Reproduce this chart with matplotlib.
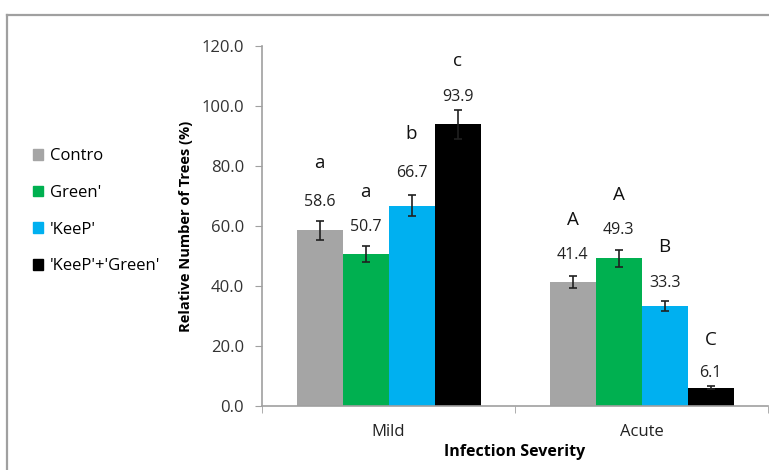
import matplotlib
matplotlib.use("Agg")
import matplotlib.pyplot as plt
from matplotlib.lines import Line2D
import numpy as np

categories = ["Mild", "Acute"]
series = ["Contro", "Green'", "'KeeP'", "'KeeP'+'Green'"]
values = {
    "Contro": [58.6, 41.4],
    "Green'": [50.7, 49.3],
    "'KeeP'": [66.7, 33.3],
    "'KeeP'+'Green'": [93.9, 6.1],
}
errors = {
    "Contro": [3.1, 2.0],
    "Green'": [2.8, 2.8],
    "'KeeP'": [3.5, 1.7],
    "'KeeP'+'Green'": [4.8, 0.5],
}
letters = {
    "Contro": ["a", "A"],
    "Green'": ["a", "A"],
    "'KeeP'": ["b", "B"],
    "'KeeP'+'Green'": ["c", "C"],
}
yticks = [0, 20, 40, 60, 80, 100, 120]

colors = ["#A5A5A5", "#00B050", "#00B0F0", "#000000"]
value_off = {
    "Contro": [9.3, 9.0],
    "Green'": [9.0, 9.2],
    "'KeeP'": [10.9, 7.6],
    "'KeeP'+'Green'": [9.1, 4.9],
}
letter_off = {
    "Contro": [22.3, 20.6],
    "Green'": [20.7, 20.9],
    "'KeeP'": [23.9, 19.7],
    "'KeeP'+'Green'": [21.0, 15.9],
}

plt.rcParams['font.family'] = ['Open Sans', 'DejaVu Sans']
fig = plt.figure(figsize=(7.69, 4.70), dpi=100)
ax = fig.add_axes([262/769, 1-406/470, 1-262/769-0.001, (406-46)/470])

x = np.arange(len(categories))
w = 46/253
for i, s in enumerate(series):
    xs = x + (i - 1.5) * w
    ax.bar(xs, values[s], width=w, color=colors[i], edgecolor='none', zorder=2)
    ax.errorbar(xs, values[s], yerr=errors[s], fmt='none', ecolor='#202020',
                elinewidth=1.2, capsize=3, capthick=1.2, zorder=3)
    for j in range(len(categories)):
        v = values[s][j]
        ax.text(xs[j], v + value_off[s][j], f"{v:.1f}", ha='center', va='center',
                fontsize=11.5, color='#222222')
        ax.text(xs[j], v + letter_off[s][j], letters[s][j], ha='center', va='center',
                fontsize=13.5, color='#111111')

ax.set_xlim(-0.5, 1.5)
ax.set_ylim(0, 120)
ax.set_yticks(yticks)
ax.set_yticklabels([f"{t:.1f}" for t in yticks], fontsize=12, color='#333333')
ax.set_xticks(x)
ax.set_xticklabels(categories, fontsize=12, color='#222222')
ax.set_xticks([-0.5, 0.5, 1.5], minor=True)
ax.tick_params(axis='x', which='major', length=0, pad=13)
ax.tick_params(axis='x', which='minor', length=5, color='#A0A0A0', direction='out')
ax.tick_params(axis='y', length=5, color='#A0A0A0', direction='out', pad=8)
for sp in ['top', 'right']:
    ax.spines[sp].set_visible(False)
for sp in ['left', 'bottom']:
    ax.spines[sp].set_color('#A0A0A0')
    ax.spines[sp].set_linewidth(1.2)

ax.set_xlabel("Infection Severity", fontsize=11.5, fontweight='bold', labelpad=3)
ax.set_ylabel("Relative Number of Trees (%)", fontsize=10.5, fontweight='bold', labelpad=6)

handles = [plt.Rectangle((0, 0), 1, 1, color=c) for c in colors]
leg = fig.legend(handles, series, loc='upper left', bbox_to_anchor=(18/769, 1-133/470),
                 frameon=False, fontsize=12, handlelength=0.62, handleheight=0.62,
                 handletextpad=0.4, labelspacing=1.25)

# outer frame
fig.add_artist(Line2D([7/769, 7/769], [0, 1-15/470], transform=fig.transFigure,
                      color='#A0A0A0', linewidth=1.6))
fig.add_artist(Line2D([7/769, 1], [1-15/470, 1-15/470], transform=fig.transFigure,
                      color='#A0A0A0', linewidth=1.6))

fig.savefig("out.png", dpi=100)
